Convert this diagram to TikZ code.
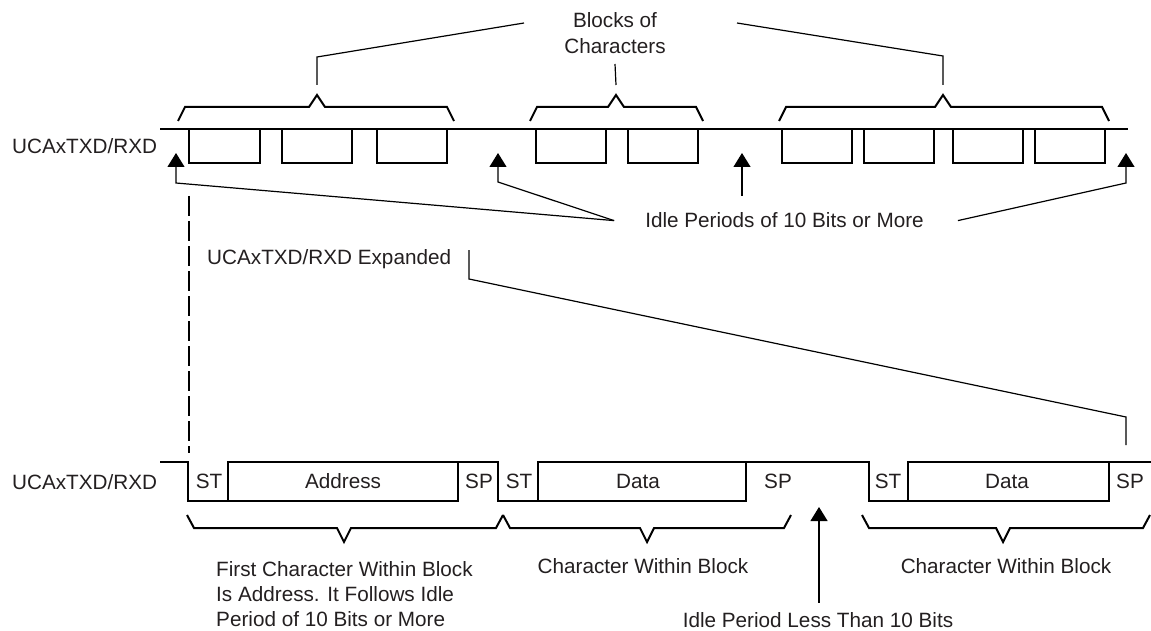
\documentclass[tikz,border=0pt]{standalone}
\usepackage{fontspec}
\setmainfont{Liberation Sans}
\usetikzlibrary{arrows.meta}
\definecolor{inkgray}{RGB}{35, 31, 32}

\begin{document}
\begin{tikzpicture}[x=1pt, y=-1pt,
    every node/.style={font=\fontsize{20.7}{25}\selectfont, inner sep=0pt, text=inkgray},
    sig/.style={line width=2.8pt, line join=miter},
    brc/.style={line width=2pt},
    lead/.style={line width=1.2pt},
    idle/.style={line width=1.2pt, -{Triangle[width=17pt,length=14pt]}}]
    \useasboundingbox (0,0) rectangle (1151,631);

    % top line: blocks of characters
    \node[anchor=base west] (topname) at (12,154) {UCAxTXD/RXD};
    \draw[sig] (160,129) -- (1128,129);
    \foreach \a/\b in {189/260, 282/352, 377/447, 536/606, 628/698, 782/852, 864/934, 953/1023, 1035/1105}
        \draw[sig] (\a,129) -- (\a,163) -- (\b,163) -- (\b,129);
    \foreach \l/\m/\r [count=\i] in {178/317/454, 530/616/703, 779/943/1109} {
        \draw[brc] (\l,121) -- (\l+7,107) -- (\m-8,107) -- (\m,95) -- (\m+8,107) -- (\r-7,107) -- (\r,121);
        \coordinate (apex\i) at (\m,85);
    }

    \node[anchor=north, align=center, font=\fontsize{20.7}{26}\selectfont] (blocks) at (615,12.2) {Blocks of\\Characters};
    \coordinate (blkl) at (524,23);
    \coordinate (blkr) at (737,23);
    \draw[lead] (blkl) -- (317,57) -- (apex1);
    \draw[lead] (blocks.south |- 0,64) -- (apex2);
    \draw[lead] (blkr) -- (943,56) -- (apex3);

    % idle periods of 10 bits or more
    \node[anchor=base] (idle) at (784.5,228) {Idle Periods of 10 Bits or More};
    \coordinate (idl) at ([xshift=-31pt]idle.west);
    \coordinate (idr) at ([xshift=34pt]idle.east);
    \draw[idle] (idl) -- (176,183) -- (176,153);
    \draw[idle] (idl) -- (498,182) -- (498,153);
    \draw[idle] (742,196) -- (742,153);
    \draw[idle] (idr) -- (1126,183) -- (1126,153);

    % expanded view
    \node[anchor=base west] (expname) at (207,264) {UCAxTXD/RXD Expanded};
    \coordinate (expend) at (1126,445);
    \draw[lead] (469,250) -- (469,279) -- (1126,417) -- (expend);
    \draw[lead, dash pattern=on 20pt off 5pt] (189,196) -- (189,453);

    \node[anchor=base west] (botname) at (12,489) {UCAxTXD/RXD};
    \draw[sig] (160,462) -- (188,462) -- (188,501) -- (458,501) -- (458,462) -- (498,462) -- (498,501)
        -- (746,501) -- (746,462) -- (869,462) -- (869,501) -- (1109,501) -- (1109,462) -- (1151,462);
    \draw[sig] (228,501) -- (228,462) -- (458,462);
    \draw[sig] (538,501) -- (538,462) -- (746,462);
    \draw[sig] (908,501) -- (908,462) -- (1109,462);
    \foreach \x/\t [count=\i] in {209/ST, 343/Address, 479/SP, 519/ST, 638/Data, 778/SP, 888/ST, 1007/Data, 1130/SP}
        \node[anchor=base] (bit\i) at (\x,488) {\t};

    \foreach \l/\m/\r in {187/344/503, 503/647/791, 862/1003/1150}
        \draw[brc] (\l,515) -- (\l+7,528) -- (\m-7,528) -- (\m,542) -- (\m+7,528) -- (\r-7,528) -- (\r,515);

    \node[anchor=north west, align=left] (firstchar) at (216,561.2) {First Character Within Block\\Is Address. It Follows Idle\\Period of 10 Bits or More};
    \node[anchor=base] (charmid) at (643,573) {Character Within Block};
    \node[anchor=base] (charright) at (1006,573) {Character Within Block};

    % idle period less than 10 bits
    \node[anchor=base] (shortidle) at (818,627) {Idle Period Less Than 10 Bits};
    \coordinate (shorttip) at (819,507);
    \draw[idle] ([yshift=9pt]shortidle.north -| shorttip) -- (shorttip);
\end{tikzpicture}
\end{document}
